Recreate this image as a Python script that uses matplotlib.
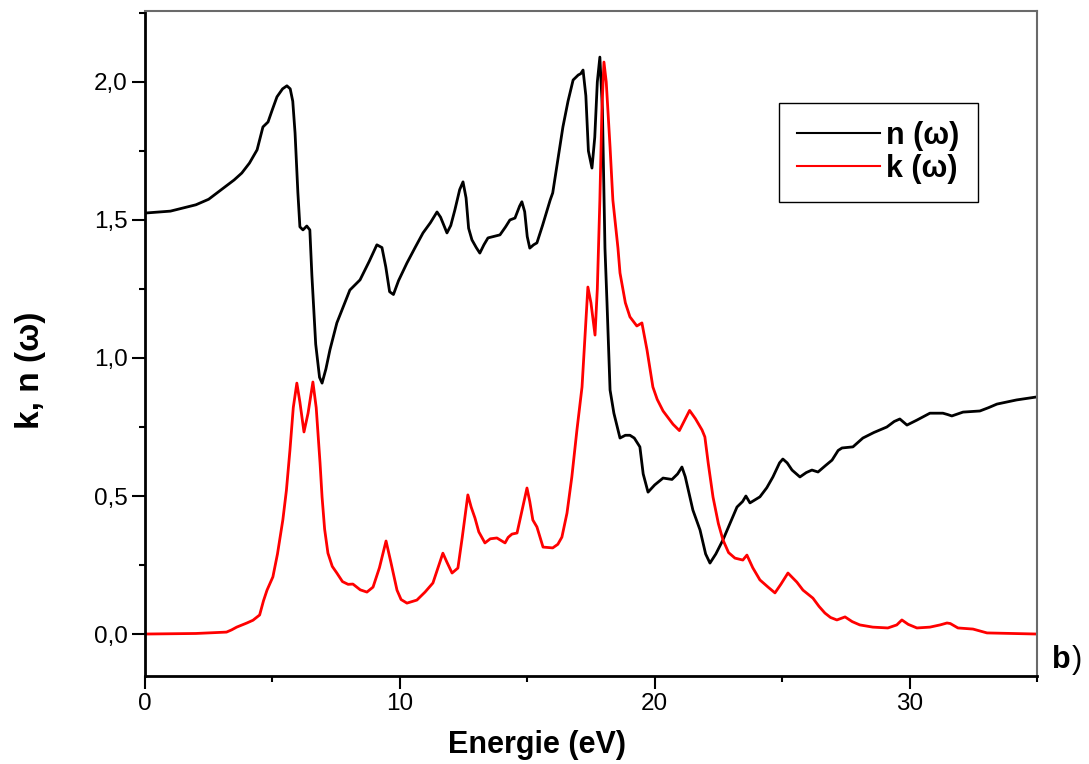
import matplotlib
matplotlib.use("Agg")
import matplotlib.pyplot as plt
from matplotlib.ticker import MultipleLocator, FuncFormatter

plt.rcParams['font.family'] = ['Liberation Sans', 'DejaVu Sans']

# n(omega) - schwarze Kurve
n_E = [0.0, 1.0, 2.0, 2.5, 3.0, 3.5, 3.8, 4.1, 4.4, 4.63, 4.83, 5.0, 5.18, 5.4, 5.57,
       5.7, 5.8, 5.89, 6.0, 6.08, 6.2, 6.35, 6.47, 6.55, 6.7, 6.85, 6.95, 7.1, 7.26,
       7.53, 7.8, 8.04, 8.44, 8.8, 9.1, 9.3, 9.45, 9.6, 9.75, 9.95, 10.28, 10.6,
       10.91, 11.2, 11.46, 11.6, 11.85, 12.0, 12.16, 12.35, 12.48, 12.6, 12.7, 12.83,
       13.0, 13.14, 13.3, 13.46, 13.93, 14.15, 14.32, 14.52, 14.7, 14.79, 14.9, 15.0,
       15.1, 15.25, 15.38, 15.6, 15.9, 16.0, 16.4, 16.6, 16.8, 17.0, 17.1, 17.19,
       17.3, 17.4, 17.54, 17.65, 17.75, 17.85, 17.95, 18.05, 18.13, 18.25, 18.4,
       18.64, 18.85, 19.03, 19.2, 19.42, 19.55, 19.74, 20.0, 20.33, 20.68, 20.9,
       21.07, 21.2, 21.5, 21.78, 22.0, 22.17, 22.4, 22.68, 23.0, 23.23, 23.45, 23.58,
       23.74, 24.13, 24.4, 24.64, 24.9, 25.03, 25.2, 25.39, 25.7, 25.95, 26.17,
       26.41, 26.7, 26.96, 27.2, 27.35, 27.78, 28.17, 28.6, 29.11, 29.4, 29.62, 29.9,
       30.29, 30.8, 31.31, 31.5, 31.66, 32.1, 32.76, 33.1, 33.43, 34.2, 35.0]
n_val = [1.525, 1.532, 1.555, 1.575, 1.61, 1.645, 1.67, 1.706, 1.754, 1.837, 1.855,
         1.90, 1.946, 1.975, 1.986, 1.975, 1.93, 1.815, 1.6, 1.475, 1.464, 1.478,
         1.464, 1.30, 1.05, 0.93, 0.909, 0.96, 1.03, 1.127, 1.19, 1.246, 1.283, 1.35,
         1.41, 1.40, 1.33, 1.24, 1.23, 1.28, 1.344, 1.40, 1.453, 1.49, 1.529, 1.51,
         1.453, 1.48, 1.536, 1.61, 1.638, 1.58, 1.47, 1.428, 1.40, 1.38, 1.41, 1.435,
         1.446, 1.475, 1.5, 1.507, 1.55, 1.566, 1.53, 1.44, 1.398, 1.41, 1.417, 1.48,
         1.572, 1.598, 1.837, 1.93, 2.007, 2.025, 2.03, 2.043, 1.95, 1.75, 1.688,
         1.80, 2.0, 2.09, 1.9, 1.398, 1.2, 0.884, 0.80, 0.71, 0.72, 0.72, 0.71,
         0.678, 0.58, 0.514, 0.54, 0.565, 0.56, 0.58, 0.605, 0.57, 0.449, 0.377, 0.29,
         0.257, 0.29, 0.341, 0.41, 0.46, 0.48, 0.5, 0.475, 0.497, 0.53, 0.569, 0.62,
         0.634, 0.62, 0.594, 0.569, 0.585, 0.594, 0.587, 0.61, 0.63, 0.665, 0.674,
         0.678, 0.71, 0.73, 0.75, 0.77, 0.779, 0.757, 0.775, 0.80, 0.80, 0.795, 0.79,
         0.804, 0.808, 0.82, 0.833, 0.848, 0.859]

# k(omega) - rote Kurve
k_E = [0.0, 1.0, 2.0, 3.2, 3.4, 3.6, 4.0, 4.24, 4.5, 4.65, 4.79, 5.02, 5.2, 5.41,
       5.55, 5.69, 5.82, 5.96, 6.08, 6.24, 6.4, 6.59, 6.72, 6.87, 6.95, 7.05, 7.18,
       7.35, 7.53, 7.75, 7.97, 8.16, 8.45, 8.71, 8.95, 9.2, 9.46, 9.65, 9.89, 10.05,
       10.28, 10.67, 10.99, 11.3, 11.5, 11.69, 11.85, 12.05, 12.28, 12.45, 12.67,
       12.8, 12.95, 13.1, 13.34, 13.55, 13.81, 14.13, 14.25, 14.4, 14.6, 14.8,
       14.99, 15.1, 15.22, 15.38, 15.62, 16.0, 16.2, 16.36, 16.56, 16.75, 16.95,
       17.15, 17.38, 17.5, 17.66, 17.75, 17.85, 17.93, 18.01, 18.1, 18.25, 18.36,
       18.56, 18.64, 18.85, 19.03, 19.3, 19.5, 19.7, 19.93, 20.1, 20.33, 20.72,
       20.97, 21.15, 21.37, 21.6, 21.86, 21.97, 22.1, 22.29, 22.5, 22.68, 22.9,
       23.15, 23.46, 23.62, 23.85, 24.13, 24.45, 24.72, 24.95, 25.23, 25.4, 25.58,
       25.82, 26.21, 26.45, 26.68, 26.9, 27.15, 27.47, 27.75, 28.05, 28.56, 29.15,
       29.5, 29.7, 29.95, 30.29, 30.8, 31.2, 31.47, 31.6, 31.9, 32.49, 32.8, 33.04,
       34.0, 35.0]
k_val = [0.0, 0.001, 0.002, 0.007, 0.015, 0.025, 0.04, 0.05, 0.069, 0.12, 0.159,
         0.207, 0.29, 0.413, 0.52, 0.667, 0.82, 0.909, 0.84, 0.732, 0.80, 0.913,
         0.82, 0.62, 0.496, 0.38, 0.293, 0.245, 0.221, 0.19, 0.18, 0.181, 0.16,
         0.152, 0.17, 0.24, 0.337, 0.26, 0.159, 0.125, 0.112, 0.123, 0.152, 0.185,
         0.24, 0.293, 0.26, 0.221, 0.239, 0.35, 0.504, 0.46, 0.42, 0.37, 0.33, 0.345,
         0.348, 0.33, 0.35, 0.362, 0.366, 0.45, 0.529, 0.48, 0.413, 0.388, 0.315,
         0.312, 0.325, 0.351, 0.438, 0.569, 0.739, 0.895, 1.257, 1.20, 1.083, 1.25,
         1.572, 1.90, 2.072, 2.0, 1.764, 1.572, 1.398, 1.308, 1.20, 1.149, 1.116,
         1.127, 1.029, 0.895, 0.85, 0.808, 0.76, 0.737, 0.77, 0.81, 0.78, 0.739,
         0.714, 0.62, 0.496, 0.40, 0.341, 0.295, 0.275, 0.268, 0.286, 0.24, 0.196,
         0.17, 0.149, 0.18, 0.221, 0.205, 0.188, 0.159, 0.13, 0.10, 0.076, 0.06,
         0.051, 0.062, 0.045, 0.033, 0.025, 0.022, 0.033, 0.051, 0.035, 0.022, 0.025,
         0.033, 0.04, 0.038, 0.022, 0.018, 0.01, 0.004, 0.002, 0.0]

fig = plt.figure(figsize=(10.89, 7.64), dpi=100)
ax = fig.add_axes([0.1331, 0.1152, 0.8191, 0.8704])

ax.plot(n_E, n_val, color="black", linewidth=2.0, label="n (ω)", solid_joinstyle="round")
ax.plot(k_E, k_val, color="red", linewidth=2.0, label="k (ω)", solid_joinstyle="round")

ax.set_xlim(0, 35)
ax.set_ylim(-0.152, 2.257)
ax.xaxis.set_major_locator(MultipleLocator(10))
ax.xaxis.set_minor_locator(MultipleLocator(5))
ax.yaxis.set_major_locator(MultipleLocator(0.5))
ax.yaxis.set_minor_locator(MultipleLocator(0.25))
ax.yaxis.set_major_formatter(FuncFormatter(lambda v, p: f"{v:.1f}".replace(".", ",")))

ax.tick_params(which="major", direction="out", length=9.5, width=1.5, labelsize=17.5, pad=3)
ax.tick_params(which="minor", direction="out", length=4.5, width=1.5)
ax.tick_params(top=False, right=False)

for s in ["left", "bottom"]:
    ax.spines[s].set_linewidth(2.0)
    ax.spines[s].set_color("black")
for s in ["top", "right"]:
    ax.spines[s].set_linewidth(1.5)
    ax.spines[s].set_color("#6a6a6a")

ax.text(0.44, -0.104, "Energie (eV)", transform=ax.transAxes, ha="center", va="center",
        fontsize=22, fontweight="bold")
fig.text(0.028, 0.515, "k, n (ω)", rotation=90, ha="center", va="center",
         fontsize=24, fontweight="bold")
ax.text(1.017, 0.024, "b", transform=ax.transAxes, ha="left", va="center",
        fontsize=22, fontweight="bold")
ax.text(1.039, 0.024, ")", transform=ax.transAxes, ha="left", va="center", fontsize=22)

leg = ax.legend(loc="upper left", bbox_to_anchor=(0.711, 0.862), borderaxespad=0,
                fancybox=False, framealpha=1, edgecolor="black", handlelength=2.7,
                prop={"weight": "bold", "size": 22}, borderpad=0.6, labelspacing=0.1,
                handletextpad=0.2)
leg.get_frame().set_linewidth(1.0)
for h in leg.get_lines():
    h.set_linewidth(1.5)

fig.savefig("out.png", dpi=100)
